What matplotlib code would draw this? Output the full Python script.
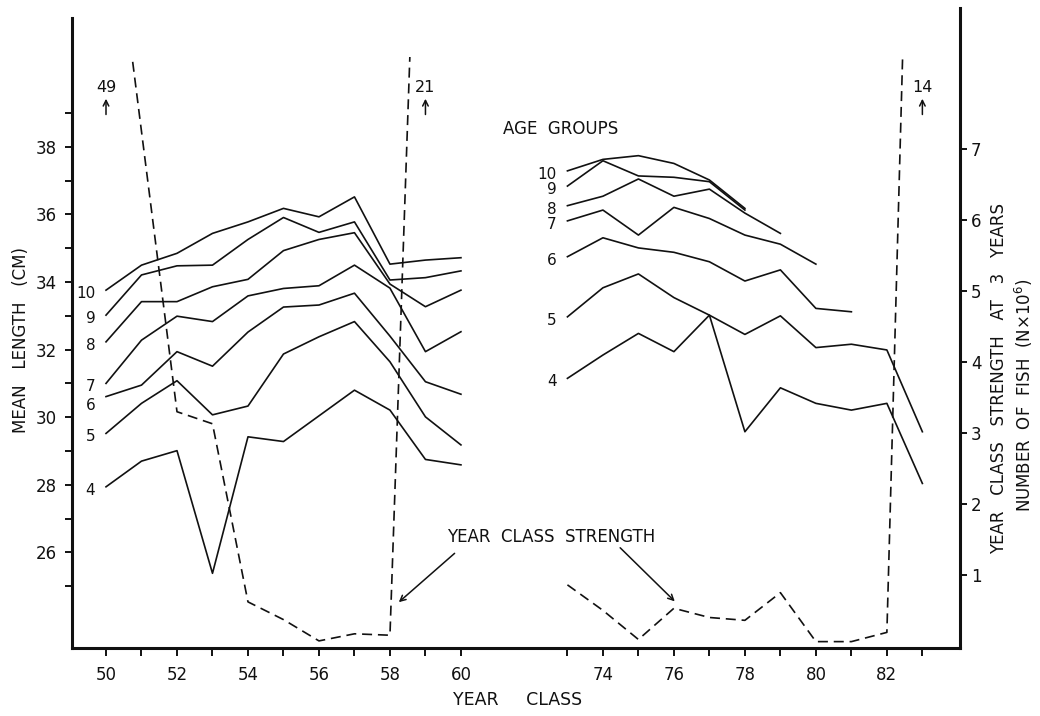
import numpy as np
import matplotlib.pyplot as plt
from matplotlib.patches import Rectangle

# year classes on the two parts of the broken axis
years_early = [50, 51, 52, 53, 54, 55, 56, 57, 58, 59, 60]
years_late = [73, 74, 75, 76, 77, 78, 79, 80, 81, 82, 83]

# mean length (cm) by age group
len_early = {
    10: [33.76, 34.50, 34.85, 35.44, 35.78, 36.18, 35.93, 36.52, 34.53, 34.65, 34.72],
    9: [33.02, 34.21, 34.48, 34.50, 35.26, 35.91, 35.47, 35.78, 34.06, 34.13, 34.33],
    8: [32.23, 33.42, 33.42, 33.86, 34.08, 34.93, 35.26, 35.46, 33.94, 33.27, 33.76],
    7: [31.00, 32.28, 32.99, 32.83, 33.59, 33.81, 33.89, 34.50, 33.82, 31.94, 32.53],
    6: [30.61, 30.95, 31.94, 31.51, 32.52, 33.26, 33.32, 33.67, 32.40, 31.05, 30.68],
    5: [29.52, 30.41, 31.08, 30.07, 30.33, 31.87, 32.38, 32.83, 31.64, 30.01, 29.18],
    4: [27.94, 28.70, 29.01, 25.38, 29.42, 29.28, 30.04, 30.80, 30.21, 28.75, 28.59],
}
len_late = {
    10: [37.29, 37.63, 37.74, 37.51, 37.02, 36.18],
    9: [36.84, 37.59, 37.14, 37.10, 36.97, 36.13],
    8: [36.26, 36.54, 37.05, 36.54, 36.75, 36.04, 35.44],
    7: [35.81, 36.13, 35.39, 36.21, 35.88, 35.39, 35.12, 34.53],
    6: [34.75, 35.31, 35.01, 34.88, 34.60, 34.03, 34.36, 33.22, 33.12],
    5: [32.97, 33.83, 34.24, 33.54, 33.02, 32.45, 33.00, 32.06, 32.16, 31.99, 29.57],
    4: [31.15, 31.84, 32.48, 31.94, 33.02, 29.57, 30.87, 30.41, 30.21, 30.41, 28.04],
}

# year class strength at 3 years (N x 10^6), off-scale ends as drawn
ycs_years_early = [50, 52, 53, 54, 55, 56, 57, 58, 59]
ycs_early = [11.2, 3.30, 3.13, 0.62, 0.37, 0.07, 0.17, 0.15, 14.7]
ycs_years_late = [73, 74, 75, 76, 77, 78, 79, 80, 81, 82, 83]
ycs_late = [0.86, 0.50, 0.09, 0.53, 0.40, 0.36, 0.75, 0.06, 0.06, 0.19, 18.5]
offscale_years = [50, 59, 83]
offscale_values = [49, 21, 14]

xtick_years = [50, 52, 54, 56, 58, 60, 74, 76, 78, 80, 82]
left_ticks = [26, 28, 30, 32, 34, 36, 38]
right_ticks = [1, 2, 3, 4, 5, 6, 7]


def pos(y):
    # broken axis: 60 -> 73 shown as 3 years
    y = np.asarray(y, dtype=float)
    return np.where(y <= 60, y - 50, y - 60)


plt.rcParams['font.family'] = ['DejaVu Sans']
ink = '#111111'
fs = 12

fig = plt.figure(figsize=(10.4, 7.16), dpi=100)
ax = fig.add_axes([72 / 1040, 1 - 648 / 716, 888 / 1040, 640 / 716])
ax2 = ax.twinx()

ax.set_xlim(-0.958, 24.06)
ax.set_ylim(23.17, 42.11)
ax2.set_ylim(-0.03, 8.99)

for age, vals in len_early.items():
    ax.plot(pos(years_early[:len(vals)]), vals, color=ink, lw=1.2)
    dy = -0.25 if age == 6 else -0.1
    ax.text(pos(years_early[0]) - 0.3, vals[0] + dy, str(age),
            ha='right', va='center', fontsize=11, color=ink)
for age, vals in len_late.items():
    ax.plot(pos(years_late[:len(vals)]), vals, color=ink, lw=1.2)
    ax.text(pos(years_late[0]) - 0.3, vals[0] - 0.1, str(age),
            ha='right', va='center', fontsize=11, color=ink)

clip = Rectangle((-1, -1), 30, 9.3, transform=ax2.transData)
for xs, ys in [(ycs_years_early, ycs_early), (ycs_years_late, ycs_late)]:
    ln, = ax2.plot(pos(xs), ys, color=ink, lw=1.2, dashes=(6, 3.5))
    ln.set_clip_path(clip)

for yr, val in zip(offscale_years, offscale_values):
    x = pos(yr)
    ax2.text(x, 7.87, str(val), ha='center', va='center', fontsize=11.5, color=ink)
    ax2.annotate('', xy=(x, 7.75), xytext=(x, 7.45),
                 arrowprops=dict(arrowstyle='->', color=ink, lw=1.1))

ax.text(12.8, 38.53, 'AGE  GROUPS', ha='center', va='center', fontsize=fs, color=ink)
ax2.text(12.55, 1.54, 'YEAR  CLASS  STRENGTH', ha='center', va='center',
         fontsize=fs, color=ink)
ax2.annotate('', xy=(8.19, 0.59), xytext=(9.88, 1.33),
             arrowprops=dict(arrowstyle='->', color=ink, lw=1.1))
ax2.annotate('', xy=(16.08, 0.60), xytext=(14.43, 1.41),
             arrowprops=dict(arrowstyle='->', color=ink, lw=1.1))

# axes
for a in (ax, ax2):
    a.spines['top'].set_visible(False)
    for s in ('left', 'right', 'bottom'):
        a.spines[s].set_linewidth(2.2)
        a.spines[s].set_color(ink)
ax.spines['right'].set_visible(False)
ax2.spines['left'].set_visible(False)
ax2.spines['bottom'].set_visible(False)
ax.spines['left'].set_bounds(23.17, 41.81)

ax.set_xticks(np.concatenate([pos(range(50, 61)), pos(range(73, 84))]))
ax.set_xticklabels([str(int(y)) if y in xtick_years else ''
                    for y in list(range(50, 61)) + list(range(73, 84))])
ax.tick_params(axis='x', direction='out', length=6, width=1.4, pad=7,
               labelsize=fs, colors=ink)

ax.set_yticks(left_ticks)
ax.set_yticks(range(25, 40, 2), minor=True)
ax.tick_params(axis='y', which='both', direction='out', length=5, width=1.4,
               pad=6, labelsize=fs, colors=ink)

ax2.set_yticks(right_ticks)
ax2.tick_params(axis='y', direction='out', length=5, width=1.4, pad=3,
                labelsize=fs, colors=ink)

fig.text(21 / 1040, 1 - 340 / 716, 'MEAN   LENGTH   (CM)', rotation=90,
         ha='center', va='center', fontsize=fs, color=ink)
fig.text(999 / 1040, 1 - 378 / 716, 'YEAR   CLASS   STRENGTH   AT   3   YEARS',
         rotation=90, ha='center', va='center', fontsize=fs, color=ink)
fig.text(1024 / 1040, 1 - 395 / 716, 'NUMBER  OF  FISH  (N×10$^{6}$)',
         rotation=90, ha='center', va='center', fontsize=12, color=ink)
fig.text(518 / 1040, 1 - 700 / 716, 'YEAR     CLASS', ha='center', va='center',
         fontsize=12.5, color=ink)

fig.savefig('out.png', dpi=100)
